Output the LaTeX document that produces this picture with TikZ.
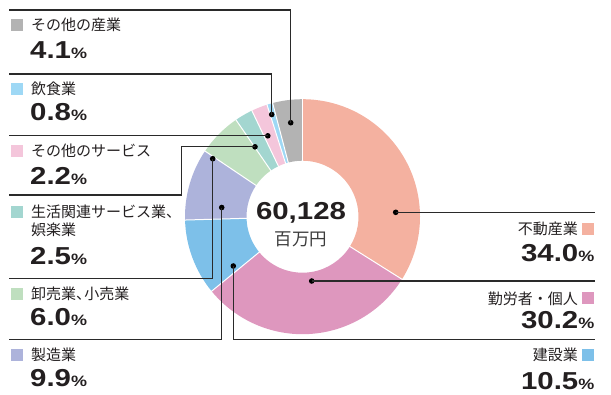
\documentclass[tikz,border=0pt]{standalone}
\usepackage{fontspec}
\setmainfont{Noto Sans CJK JP}
\newfontfamily\numfont[FakeStretch=1.2]{Liberation Sans}
\definecolor{c1}{HTML}{F4B1A0}
\definecolor{c2}{HTML}{DE97BE}
\definecolor{c3}{HTML}{7DC0E9}
\definecolor{c4}{HTML}{ADB3DB}
\definecolor{c5}{HTML}{BFDFBF}
\definecolor{c6}{HTML}{A3D6D0}
\definecolor{c7}{HTML}{F4C6DB}
\definecolor{c8}{HTML}{9ED8F5}
\definecolor{c9}{HTML}{B3B3B3}
\definecolor{txt}{HTML}{231F20}
\definecolor{lnc}{HTML}{2A2A2A}
\definecolor{unitc}{HTML}{3C3C3C}
\newcommand\pc[1]{{\numfont\bfseries\fontsize{24.5bp}{26bp}\selectfont #1}{\numfont\bfseries\fontsize{15bp}{16bp}\selectfont\%}}
\begin{document}
\begin{tikzpicture}[x=1bp,y=-1bp,
  lbl/.style={inner sep=0pt, anchor=base west, font=\fontsize{15bp}{18bp}\selectfont, text=txt},
  lblr/.style={lbl, anchor=base east},
  pct/.style={inner sep=0pt, anchor=base west, text=txt},
  pctr/.style={pct, anchor=base east},
  sq/.style={inner sep=0pt, minimum size=12bp, draw=none},
  dot/.style={circle, fill=black, inner sep=0pt, minimum size=5.6bp},
  lead/.style={draw=lnc, line width=1.3bp}]
\useasboundingbox (0,0) rectangle (611,394);
% donut
\begin{scope}[shift={(302.5,216.7)}, x=1bp, y=1bp]
  \foreach \a/\b/\c in {90/-32.16/c1, -32.16/-140.66/c2, -140.66/-178.38/c3,
      -178.38/-213.95/c4, -213.95/-235.51/c5, -235.51/-244.49/c6,
      -244.49/-252.40/c7, -252.40/-255.27/c8, -255.27/-270/c9}
    \fill[\c] (\a:117.5) arc[start angle=\a, end angle=\b, radius=117.5]
      -- (\b:56) arc[start angle=\b, end angle=\a, radius=56] -- cycle;
  \foreach \a in {90,-32.16,-140.66,-178.38,-213.95,-235.51,-244.49,-252.40,-255.27}
    \draw[white, line width=1bp] (\a:55) -- (\a:118.5);
\end{scope}
% centre
\node[inner sep=0pt, anchor=base, text=txt, font=\numfont\bfseries\fontsize{24.5bp}{26bp}\selectfont] (tot) at (301,219.3) {60,128};
\node[inner sep=0pt, anchor=base, text=unitc, font=\fontsize{17.5bp}{20bp}\selectfont] (unit) at (301,245.5) {百万円};
% dots
\node[dot] (d1) at (290.7,122.7) {};
\node[dot] (d2) at (271.7,114.5) {};
\node[dot] (d3) at (267.8,135.8) {};
\node[dot] (d4) at (255,146.8) {};
\node[dot] (d5) at (212.7,158.7) {};
\node[dot] (d6) at (221.7,207.5) {};
\node[dot] (d7) at (233.3,266) {};
\node[dot] (d8) at (311.7,281) {};
\node[dot] (d9) at (395.7,212.3) {};
% line ends
\coordinate (e1) at (9,10);
\coordinate (e2) at (9,74);
\coordinate (e3) at (9,135.8);
\coordinate (k4) at (181.7,195);
\coordinate (e4) at (9,195);
\coordinate (e5) at (9,278.3);
\coordinate (e6) at (9,339.5);
\coordinate (e7) at (595,339.5);
\coordinate (e8) at (595,281);
\coordinate (e9) at (595,212.3);
\draw[lead] (d1.center) |- (e1);
\draw[lead] (d2.center) |- (e2);
\draw[lead] (d3.center) -- (e3);
\draw[lead] (d4.center) -| (k4) |- (e4);
\draw[lead] (d5.center) |- (e5);
\draw[lead] (d6.center) |- (e6);
\draw[lead] (d7.center) |- (e7);
\draw[lead] (d8.center) -- (e8);
\draw[lead] (d9.center) -- (e9);
% left labels
\node[sq, fill=c9] (s1) at (17,25.3) {};
\node[lbl] (l1) at (31,30.7) {その他の産業};
\node[pct] (p1) at (30,58.3) {\pc{4.1}};
\node[sq, fill=c8] (s2) at (17,88.5) {};
\node[lbl] (l2) at (31,94) {飲食業};
\node[pct] (p2) at (30,120.7) {\pc{0.8}};
\node[sq, fill=c7] (s3) at (17,150.5) {};
\node[lbl] (l3) at (31,156) {その他のサービス};
\node[pct] (p3) at (30,184) {\pc{2.2}};
\node[sq, fill=c6] (s4) at (17,211.8) {};
\node[lbl] (l4) at (31,217.3) {生活関連サービス業、};
\node[lbl] (l4b) at (31,235.7) {娯楽業};
\node[pct] (p4) at (30,264) {\pc{2.5}};
\node[sq, fill=c5] (s5) at (17,293.5) {};
\node[lbl] (l5) at (31,299) {卸売業、\kern-0.45em小売業};
\node[pct] (p5) at (30,325.7) {\pc{6.0}};
\node[sq, fill=c4] (s6) at (17,355.2) {};
\node[lbl] (l6) at (31,360.7) {製造業};
\node[pct] (p6) at (30,386.7) {\pc{9.9}};
% right labels
\node[sq, fill=c1] (s9) at (587.5,228.5) {};
\node[lblr] (l9) at (578,234) {不動産業};
\node[pctr] (p9) at (594.5,261.7) {\pc{34.0}};
\node[sq, fill=c2] (s8) at (587.5,298.2) {};
\node[lblr] (l8) at (578,304) {勤労者・個人};
\node[pctr] (p8) at (594.5,328.3) {\pc{30.2}};
\node[sq, fill=c3] (s7) at (587.5,355.2) {};
\node[lblr] (l7) at (578,360.7) {建設業};
\node[pctr] (p7) at (594.5,389.3) {\pc{10.5}};
\end{tikzpicture}
\end{document}
